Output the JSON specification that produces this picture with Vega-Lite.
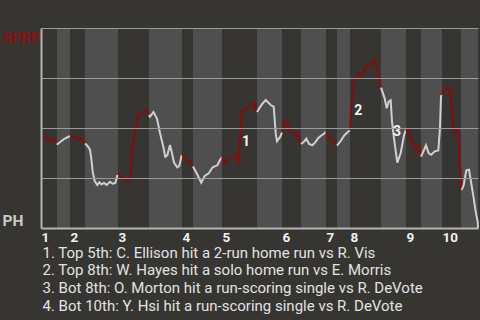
{
  "$schema": "https://vega.github.io/schema/vega-lite/v6.json",
  "width": 437,
  "height": 200,
  "autosize": {"type": "none"},
  "padding": {"left": 41, "top": 28, "right": 2, "bottom": 92},
  "background": "#363532",
  "config": {"view": {"stroke": null}, "font": "Roboto"},
  "datasets": {
    "halves": [
      {"h": 1, "start": 0, "end": 3.66, "half": "top"},
      {"h": 2, "start": 3.66, "end": 6.64, "half": "bot"},
      {"h": 3, "start": 6.64, "end": 10.07, "half": "top"},
      {"h": 4, "start": 10.07, "end": 17.62, "half": "bot"},
      {"h": 5, "start": 17.62, "end": 24.71, "half": "top"},
      {"h": 6, "start": 24.71, "end": 32.27, "half": "bot"},
      {"h": 7, "start": 32.27, "end": 34.78, "half": "top"},
      {"h": 8, "start": 34.78, "end": 41.42, "half": "bot"},
      {"h": 9, "start": 41.42, "end": 49.43, "half": "top"},
      {"h": 10, "start": 49.43, "end": 55.15, "half": "bot"},
      {"h": 11, "start": 55.15, "end": 59.5, "half": "top"},
      {"h": 12, "start": 59.5, "end": 65.22, "half": "bot"},
      {"h": 13, "start": 65.22, "end": 67.73, "half": "top"},
      {"h": 14, "start": 67.73, "end": 70.71, "half": "bot"},
      {"h": 15, "start": 70.71, "end": 77.8, "half": "top"},
      {"h": 16, "start": 77.8, "end": 83.52, "half": "bot"},
      {"h": 17, "start": 83.52, "end": 86.96, "half": "top"},
      {"h": 18, "start": 86.96, "end": 91.76, "half": "bot"},
      {"h": 19, "start": 91.76, "end": 96.11, "half": "top"},
      {"h": 20, "start": 96.11, "end": 100, "half": "bot"}
    ],
    "pts": [
      {"h": 1, "x": 0, "y": 0.455}, {"h": 1, "x": 0.69, "y": 0.455}, {"h": 1, "x": 1.37, "y": 0.4525}, {"h": 1, "x": 2.22, "y": 0.435}, {"h": 1, "x": 2.81, "y": 0.445}, {"h": 1, "x": 3.43, "y": 0.4285}, {"h": 1, "x": 3.66, "y": 0.424},
      {"h": 2, "x": 3.66, "y": 0.424}, {"h": 2, "x": 3.78, "y": 0.42}, {"h": 2, "x": 4.35, "y": 0.4285}, {"h": 2, "x": 5.26, "y": 0.445}, {"h": 2, "x": 6.18, "y": 0.455}, {"h": 2, "x": 6.64, "y": 0.46},
      {"h": 3, "x": 6.64, "y": 0.46}, {"h": 3, "x": 6.75, "y": 0.4615}, {"h": 3, "x": 7.71, "y": 0.4515}, {"h": 3, "x": 8.63, "y": 0.4415}, {"h": 3, "x": 9.08, "y": 0.4485}, {"h": 3, "x": 9.54, "y": 0.435}, {"h": 3, "x": 10.07, "y": 0.4225},
      {"h": 4, "x": 10.07, "y": 0.4225}, {"h": 4, "x": 10.59, "y": 0.4115}, {"h": 4, "x": 11.21, "y": 0.3915}, {"h": 4, "x": 11.51, "y": 0.3485}, {"h": 4, "x": 11.83, "y": 0.2815}, {"h": 4, "x": 12.29, "y": 0.235}, {"h": 4, "x": 12.88, "y": 0.215}, {"h": 4, "x": 13.34, "y": 0.2285}, {"h": 4, "x": 13.8, "y": 0.2185}, {"h": 4, "x": 14.42, "y": 0.225}, {"h": 4, "x": 15.03, "y": 0.215}, {"h": 4, "x": 15.79, "y": 0.2315}, {"h": 4, "x": 16.41, "y": 0.2215}, {"h": 4, "x": 17.0, "y": 0.225}, {"h": 4, "x": 17.46, "y": 0.2615}, {"h": 4, "x": 17.62, "y": 0.265},
      {"h": 5, "x": 17.62, "y": 0.265}, {"h": 5, "x": 17.78, "y": 0.2715}, {"h": 5, "x": 18.24, "y": 0.255}, {"h": 5, "x": 18.99, "y": 0.2485}, {"h": 5, "x": 19.75, "y": 0.235}, {"h": 5, "x": 20.48, "y": 0.245}, {"h": 5, "x": 20.82, "y": 0.3815}, {"h": 5, "x": 21.28, "y": 0.455}, {"h": 5, "x": 21.74, "y": 0.5}, {"h": 5, "x": 22.08, "y": 0.56}, {"h": 5, "x": 22.31, "y": 0.5675}, {"h": 5, "x": 23.11, "y": 0.575}, {"h": 5, "x": 24.03, "y": 0.59}, {"h": 5, "x": 24.6, "y": 0.5675}, {"h": 5, "x": 24.71, "y": 0.565},
      {"h": 6, "x": 24.71, "y": 0.565}, {"h": 6, "x": 24.94, "y": 0.5565}, {"h": 6, "x": 25.74, "y": 0.58}, {"h": 6, "x": 26.54, "y": 0.5475}, {"h": 6, "x": 27.23, "y": 0.475}, {"h": 6, "x": 27.99, "y": 0.4065}, {"h": 6, "x": 28.44, "y": 0.3565}, {"h": 6, "x": 28.9, "y": 0.3635}, {"h": 6, "x": 29.52, "y": 0.415}, {"h": 6, "x": 29.98, "y": 0.3735}, {"h": 6, "x": 30.43, "y": 0.3265}, {"h": 6, "x": 31.19, "y": 0.3035}, {"h": 6, "x": 31.65, "y": 0.31}, {"h": 6, "x": 32.15, "y": 0.36}, {"h": 6, "x": 32.27, "y": 0.361},
      {"h": 7, "x": 32.27, "y": 0.361}, {"h": 7, "x": 32.43, "y": 0.3625}, {"h": 7, "x": 33.33, "y": 0.34}, {"h": 7, "x": 34.26, "y": 0.3235}, {"h": 7, "x": 34.78, "y": 0.307},
      {"h": 8, "x": 34.78, "y": 0.307}, {"h": 8, "x": 35.63, "y": 0.2735}, {"h": 8, "x": 36.68, "y": 0.2265}, {"h": 8, "x": 37.46, "y": 0.26}, {"h": 8, "x": 38.38, "y": 0.2735}, {"h": 8, "x": 39.29, "y": 0.3035}, {"h": 8, "x": 40.34, "y": 0.3135}, {"h": 8, "x": 41.12, "y": 0.3465}, {"h": 8, "x": 41.42, "y": 0.35},
      {"h": 9, "x": 41.42, "y": 0.35}, {"h": 9, "x": 42.11, "y": 0.3235}, {"h": 9, "x": 43.25, "y": 0.3535}, {"h": 9, "x": 44.39, "y": 0.36}, {"h": 9, "x": 45.19, "y": 0.3275}, {"h": 9, "x": 45.65, "y": 0.465}, {"h": 9, "x": 46.06, "y": 0.585}, {"h": 9, "x": 47.14, "y": 0.5965}, {"h": 9, "x": 48.05, "y": 0.61}, {"h": 9, "x": 48.67, "y": 0.63}, {"h": 9, "x": 49.13, "y": 0.5935}, {"h": 9, "x": 49.43, "y": 0.58},
      {"h": 10, "x": 49.43, "y": 0.58}, {"h": 10, "x": 50.5, "y": 0.6165}, {"h": 10, "x": 51.42, "y": 0.64}, {"h": 10, "x": 52.63, "y": 0.6135}, {"h": 10, "x": 53.25, "y": 0.6065}, {"h": 10, "x": 53.71, "y": 0.4735}, {"h": 10, "x": 54.0, "y": 0.4335}, {"h": 10, "x": 54.76, "y": 0.4565}, {"h": 10, "x": 55.15, "y": 0.478},
      {"h": 11, "x": 55.15, "y": 0.478}, {"h": 11, "x": 55.22, "y": 0.48}, {"h": 11, "x": 55.84, "y": 0.5365}, {"h": 11, "x": 56.29, "y": 0.53}, {"h": 11, "x": 56.91, "y": 0.49}, {"h": 11, "x": 57.51, "y": 0.48}, {"h": 11, "x": 57.96, "y": 0.4735}, {"h": 11, "x": 58.58, "y": 0.48}, {"h": 11, "x": 59.04, "y": 0.4365}, {"h": 11, "x": 59.5, "y": 0.42},
      {"h": 12, "x": 59.5, "y": 0.42}, {"h": 12, "x": 60.11, "y": 0.43}, {"h": 12, "x": 60.71, "y": 0.4465}, {"h": 12, "x": 61.33, "y": 0.42}, {"h": 12, "x": 62.08, "y": 0.4135}, {"h": 12, "x": 62.7, "y": 0.4265}, {"h": 12, "x": 63.46, "y": 0.45}, {"h": 12, "x": 64.23, "y": 0.4635}, {"h": 12, "x": 64.76, "y": 0.4715}, {"h": 12, "x": 65.22, "y": 0.4815},
      {"h": 13, "x": 65.22, "y": 0.4815}, {"h": 13, "x": 66.13, "y": 0.4485}, {"h": 13, "x": 66.89, "y": 0.4285}, {"h": 13, "x": 67.73, "y": 0.4115},
      {"h": 14, "x": 67.73, "y": 0.4115}, {"h": 14, "x": 68.58, "y": 0.435}, {"h": 14, "x": 69.34, "y": 0.4615}, {"h": 14, "x": 70.25, "y": 0.4815}, {"h": 14, "x": 70.71, "y": 0.4885},
      {"h": 15, "x": 70.71, "y": 0.4885}, {"h": 15, "x": 71.01, "y": 0.5985}, {"h": 15, "x": 71.46, "y": 0.6985}, {"h": 15, "x": 71.92, "y": 0.7485}, {"h": 15, "x": 72.7, "y": 0.775}, {"h": 15, "x": 73.62, "y": 0.765}, {"h": 15, "x": 74.37, "y": 0.8115}, {"h": 15, "x": 75.45, "y": 0.8185}, {"h": 15, "x": 76.36, "y": 0.8385}, {"h": 15, "x": 76.96, "y": 0.785}, {"h": 15, "x": 77.8, "y": 0.7015},
      {"h": 16, "x": 77.8, "y": 0.7015}, {"h": 16, "x": 78.65, "y": 0.6485}, {"h": 16, "x": 79.11, "y": 0.5985}, {"h": 16, "x": 79.57, "y": 0.6315}, {"h": 16, "x": 80.02, "y": 0.6385}, {"h": 16, "x": 80.32, "y": 0.5315}, {"h": 16, "x": 80.78, "y": 0.4485}, {"h": 16, "x": 81.53, "y": 0.3265}, {"h": 16, "x": 82.3, "y": 0.3735}, {"h": 16, "x": 83.07, "y": 0.4635}, {"h": 16, "x": 83.52, "y": 0.4935},
      {"h": 17, "x": 83.52, "y": 0.4935}, {"h": 17, "x": 84.44, "y": 0.4565}, {"h": 17, "x": 85.35, "y": 0.4135}, {"h": 17, "x": 86.11, "y": 0.39}, {"h": 17, "x": 86.57, "y": 0.4135}, {"h": 17, "x": 86.96, "y": 0.3565},
      {"h": 18, "x": 86.96, "y": 0.3565}, {"h": 18, "x": 87.64, "y": 0.39}, {"h": 18, "x": 88.1, "y": 0.4135}, {"h": 18, "x": 88.72, "y": 0.3735}, {"h": 18, "x": 89.31, "y": 0.3665}, {"h": 18, "x": 90.09, "y": 0.3835}, {"h": 18, "x": 90.92, "y": 0.3875}, {"h": 18, "x": 91.3, "y": 0.5}, {"h": 18, "x": 91.53, "y": 0.6585}, {"h": 18, "x": 91.76, "y": 0.665},
      {"h": 19, "x": 91.76, "y": 0.665}, {"h": 19, "x": 92.22, "y": 0.6865}, {"h": 19, "x": 92.84, "y": 0.6985}, {"h": 19, "x": 93.59, "y": 0.6985}, {"h": 19, "x": 93.98, "y": 0.615}, {"h": 19, "x": 94.44, "y": 0.4815}, {"h": 19, "x": 95.19, "y": 0.4785}, {"h": 19, "x": 95.49, "y": 0.495}, {"h": 19, "x": 95.81, "y": 0.3315}, {"h": 19, "x": 96.11, "y": 0.25}, {"h": 19, "x": 96.27, "y": 0.19},
      {"h": 20, "x": 96.27, "y": 0.19}, {"h": 20, "x": 96.73, "y": 0.215}, {"h": 20, "x": 97.32, "y": 0.2885}, {"h": 20, "x": 97.94, "y": 0.2915}, {"h": 20, "x": 98.4, "y": 0.2315}, {"h": 20, "x": 99.02, "y": 0.1485}, {"h": 20, "x": 99.47, "y": 0.0815}, {"h": 20, "x": 99.93, "y": 0.0315}, {"h": 20, "x": 100, "y": 0}
    ],
    "notes": [
      {"n": "1", "x": 46.91, "y": 0.4315},
      {"n": "2", "x": 72.61, "y": 0.5865},
      {"n": "3", "x": 81.46, "y": 0.4785}
    ]
  },
  "layer": [
    {
      "data": {"name": "halves"},
      "transform": [{"filter": "datum.half == 'bot'"}],
      "mark": {"type": "rect", "color": "#4f4f4f"},
      "encoding": {
        "x": {
          "field": "start",
          "type": "quantitative",
          "scale": {"domain": [0, 100], "nice": false, "zero": false},
          "axis": {
            "values": [0, 6.64, 17.62, 32.27, 41.42, 55.15, 65.22, 70.71, 83.52, 91.76],
            "labelExpr": "'' + (indexof([0, 6.64, 17.62, 32.27, 41.42, 55.15, 65.22, 70.71, 83.52, 91.76], datum.value) + 1)",
            "grid": false,
            "ticks": false,
            "domain": true,
            "domainColor": "#b4b4b4",
            "domainWidth": 2,
            "labelAlign": "left",
            "labelBaseline": "top",
            "labelPadding": 2,
            "labelFont": "Roboto",
            "labelFontSize": 13.5,
            "labelFontWeight": "bold",
            "labelColor": "#f0f0f0",
            "labelFlush": false,
            "labelOverlap": false,
            "title": [
              "1. Top 5th: C. Ellison hit a 2-run home run vs R. Vis",
              "2. Top 8th: W. Hayes hit a solo home run vs E. Morris",
              "3. Bot 8th: O. Morton hit a run-scoring single vs R. DeVote",
              "4. Bot 10th: Y. Hsi hit a run-scoring single vs R. DeVote"
            ],
            "titleFont": "Roboto",
            "titleFontSize": 15,
            "titleFontWeight": "normal",
            "titleColor": "#e2e2e2",
            "titleAlign": "left",
            "titleAnchor": "start",
            "titleBaseline": "top",
            "titleLineHeight": 17.7,
            "titleX": 1,
            "titleY": 17,
            "zindex": 1
          }
        },
        "x2": {"field": "end"}
      }
    },
    {
      "data": {"name": "pts"},
      "mark": {"type": "line", "strokeWidth": 2},
      "encoding": {
        "x": {"field": "x", "type": "quantitative"},
        "y": {
          "field": "y",
          "type": "quantitative",
          "scale": {"domain": [0, 1], "nice": false, "zero": false},
          "axis": {
            "values": [0, 0.25, 0.5, 0.75, 1],
            "grid": true,
            "gridColor": "#9a9a9a",
            "gridWidth": 1,
            "domain": true,
            "domainColor": "#b4b4b4",
            "domainWidth": 2,
            "ticks": false,
            "labelExpr": "datum.value == 1 ? 'SFRP' : datum.value == 0 ? 'PH' : ''",
            "labelAlign": "left",
            "labelPadding": 39,
            "labelFlush": true,
            "labelOffset": {"condition": {"test": "datum.value == 1", "value": 2}, "value": 0},
            "labelFont": "Roboto",
            "labelFontSize": 15.5,
            "labelFontWeight": "bold",
            "labelColor": {"condition": {"test": "datum.value == 1", "value": "#8b1010"}, "value": "#c8c8c8"},
            "title": null,
            "zindex": 1
          }
        },
        "detail": {"field": "h", "type": "nominal"},
        "color": {"condition": {"test": "datum.h % 2 == 1", "value": "#8b0a0a"}, "value": "#d0d0d0"}
      }
    },
    {
      "data": {"name": "notes"},
      "mark": {"type": "text", "font": "Roboto", "fontSize": 14, "fontWeight": "bold", "color": "#f4f4f4", "align": "center", "baseline": "middle"},
      "encoding": {
        "x": {"field": "x", "type": "quantitative"},
        "y": {"field": "y", "type": "quantitative"},
        "text": {"field": "n"}
      }
    }
  ]
}
